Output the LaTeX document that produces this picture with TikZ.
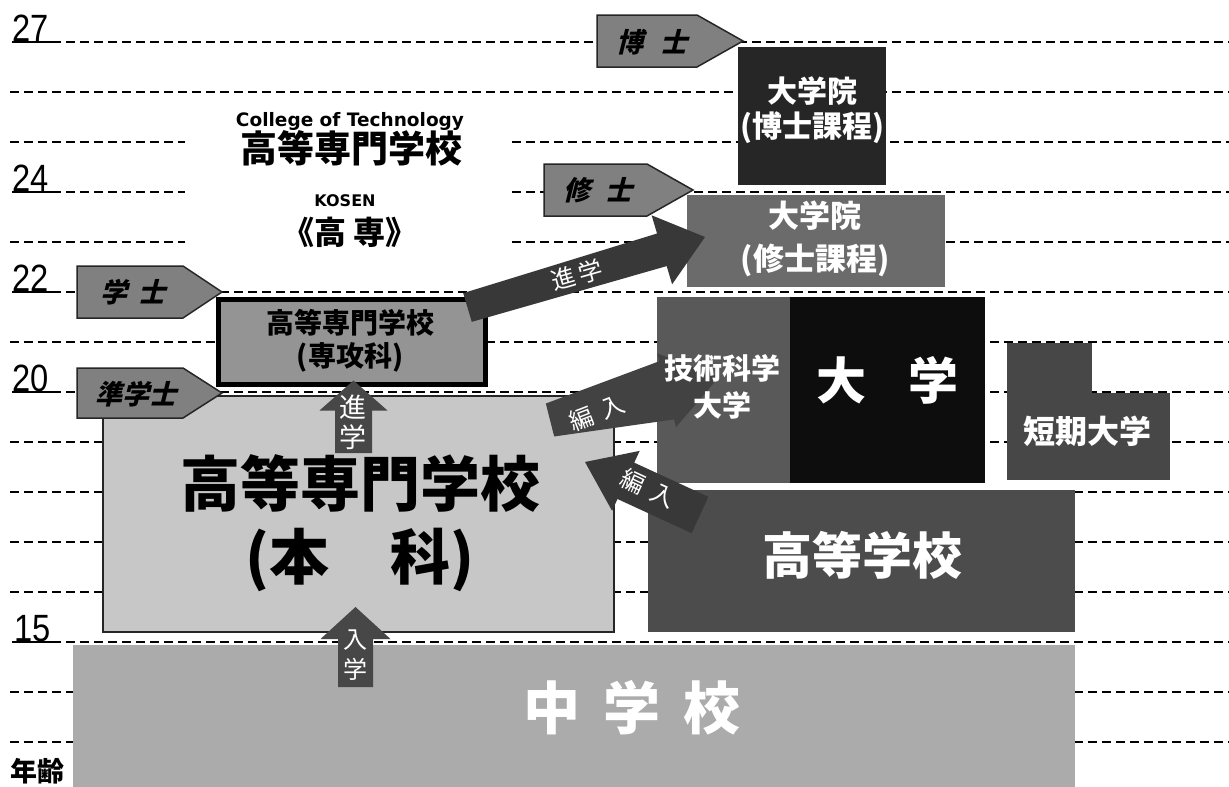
\documentclass[tikz,border=0pt]{standalone}
\usepackage{fontspec}
\setmainfont{Liberation Sans}
\newfontfamily\jp{Noto Sans CJK JP}
\newfontfamily\jpsl{Noto Sans CJK JP}[FakeSlant=0.25]
\newfontfamily\dv{DejaVu Sans}
\usetikzlibrary{calc}
\newcommand\blockarrow[7]{%
  \coordinate (BAt) at #2;
  \coordinate (BAh) at #3;
  \coordinate (BAb) at ($(BAh)!#7!(BAt)$);
  \fill[#1] ($(BAt)!#4!90:(BAh)$) -- ($(BAb)!#5!90:(BAh)$) -- ($(BAb)!#6!90:(BAh)$)
    -- (BAh) -- ($(BAb)!#6!-90:(BAh)$) -- ($(BAb)!#5!-90:(BAh)$) -- ($(BAt)!#4!-90:(BAh)$) -- cycle;
}
\tikzset{
  ageline/.style={line width=1.6pt, dash pattern=on 9pt off 5pt},
  underl/.style={line width=1.6pt},
  agelbl/.style={inner sep=0pt, anchor=base west, font=\fontsize{38}{38}\selectfont},
  box/.style={inner sep=0pt, outer sep=0pt},
  tag/.style={fill=black!50, draw=black!85, line width=1.5pt},
  tagtxt/.style={inner sep=0pt, font=\jpsl\bfseries\fontsize{27}{27}\selectfont},
  wtxt/.style={inner sep=0pt, text=white, align=center},
  btxt/.style={inner sep=0pt, text=black, align=center},
  arr/.style={fill=black!78},
}
\begin{document}
\begin{tikzpicture}[x=1pt,y=-1pt]
\fill[white] (0,0) rectangle (1229,787);
\useasboundingbox (0,0) rectangle (1229,787);

% ---- age grid lines ----
\foreach \yy in {92,342,442,492,542,592,692,742}
  \draw[ageline] (10,\yy) -- (1229,\yy);
\foreach \yy in {42,292,392,642}{
  \draw[underl] (12,\yy) -- (52,\yy);
  \draw[ageline] (52,\yy) -- (1229,\yy);}
\foreach \yy in {142,242}{
  \draw[ageline] (10,\yy) -- (185,\yy);
  \draw[ageline] (512,\yy) -- (1229,\yy);}
\draw[underl] (12,192) -- (52,192);
\draw[ageline] (52,192) -- (185,192);
\draw[ageline] (512,192) -- (1229,192);

% ---- age labels ----
\node[agelbl] (a27) at (12,41) {\scalebox{0.86}[1]{27}};
\node[agelbl] (a24) at (12,191) {\scalebox{0.86}[1]{24}};
\node[agelbl] (a22) at (12,291) {\scalebox{0.86}[1]{22}};
\node[agelbl] (a20) at (12,391) {\scalebox{0.86}[1]{20}};
\node[agelbl] (a15) at (14,641) {\scalebox{0.86}[1]{15}};
\node[inner sep=0pt, font=\jp\bfseries\fontsize{27}{27}\selectfont] (nenrei) at (37,771) {年齢};

% ---- title ----
\node[inner sep=0pt, font=\dv\bfseries\fontsize{18.5}{20}\selectfont] (coll) at (350,121) {College of Technology};
\node[inner sep=0pt, font=\jp\bfseries\fontsize{37}{40}\selectfont] (kosenjp) at (351,148) {高等専門学校};
\node[inner sep=0pt, font=\dv\bfseries\fontsize{16}{18}\selectfont] (kosenen) at (345,201) {KOSEN};
\node[inner sep=0pt, font=\jp\bfseries\fontsize{32}{34}\selectfont] (kosenab) at (350,232) {《高 専》};

% ---- boxes ----
\node[box, fill=black!33, minimum width=1002pt, minimum height=145pt] (chugaku) at (574,717.5) {};
\node[box, fill=black!22, draw=black!85, line width=2pt, minimum width=511pt, minimum height=236pt] (honka) at (358.5,514) {};
\node[box, fill=black!42, draw=black, line width=5pt, minimum width=267pt, minimum height=85pt] (senko) at (352,342) {};
\node[box, fill=black!85, minimum width=148pt, minimum height=138pt] (hakase) at (812,116) {};
\node[box, fill=black!58, minimum width=258pt, minimum height=92pt] (shushi) at (816,241) {};
\node[box, fill=black!65, minimum width=133pt, minimum height=186pt] (gikadai) at (723.5,390) {};
\node[box, fill=black!95, minimum width=195pt, minimum height=186pt] (daigaku) at (887.5,390) {};
\node[box, fill=black!70, minimum width=427pt, minimum height=142pt] (koko) at (861.5,561) {};
\fill[black!72] (1007,343) rectangle (1092,394);
\node[box, fill=black!72, minimum width=163pt, minimum height=87pt] (tanki) at (1088.5,436.5) {};

% ---- degree tags ----
\draw[tag] (597,15) -- (697,15) -- (743,41) -- (697,67) -- (597,67) -- cycle;
\node[tagtxt] (hakaseTag) at (652,42) {博\hspace{18pt}士};
\draw[tag] (544,164) -- (647,164) -- (693,190) -- (647,216) -- (544,216) -- cycle;
\node[tagtxt] (shushiTag) at (598,190) {修\hspace{15pt}士};
\draw[tag] (77,266) -- (183,266) -- (222,292) -- (183,318) -- (77,318) -- cycle;
\node[tagtxt] (gakushiTag) at (133,292) {学\hspace{12pt}士};
\draw[tag] (77,368) -- (183,368) -- (222,393) -- (183,418) -- (77,418) -- cycle;
\node[tagtxt] (jungakushiTag) at (136,394) {準学士};

% ---- arrows ----
\blockarrow{arr}{($(senko.north east)+(-18,8)$)}{($(shushi.west)+(18,-4)$)}{15pt}{17pt}{36pt}{45pt}
\node[wtxt, rotate=16, font=\jp\fontsize{24}{24}\selectfont] (shingaku2) at (577,275) {進\hspace{4pt}学};
\blockarrow{fill=black!74}{(550,420)}{($(gikadai.west)+(62,-13)$)}{17pt}{30pt}{38pt}{54pt}
\node[wtxt, rotate=21, font=\jp\fontsize{24}{24}\selectfont] (hennyu1) at (597,413) {編\hspace{9pt}入};
\blockarrow{arr}{(700,515)}{(585,462)}{20pt}{20pt}{33pt}{45pt}
\node[wtxt, rotate=-25, font=\jp\fontsize{24}{24}\selectfont] (hennyu2) at (648,488) {編\hspace{9pt}入};
\blockarrow{fill=black!72}{(353.5,453)}{($(senko.south)+(1.5,-4)$)}{18.5pt}{18.5pt}{34pt}{30pt}
\node[wtxt, font=\jp\fontsize{27}{30}\selectfont] (shingaku1) at (353,422) {進\\学};
\blockarrow{fill=black!72}{(355.5,687)}{($(honka.south)+(-3,-25)$)}{17.5pt}{17.5pt}{35pt}{32pt}
\node[wtxt, font=\jp\fontsize{24}{30}\selectfont] (nyugaku) at (355,655) {入\\学};

% ---- box texts ----
\node[wtxt, font=\jp\bfseries\fontsize{30}{35}\selectfont] at (812,110) {大学院\\(博士課程)};
\node[wtxt, font=\jp\bfseries\fontsize{31}{43}\selectfont] at (815,238.5) {大学院\\(修士課程)};
\node[btxt, font=\jp\bfseries\fontsize{28}{33}\selectfont] at (350,341) {高等専門学校\\(専攻科)};
\node[btxt, font=\jp\bfseries\fontsize{60}{73}\selectfont] at (360,523.5) {高等専門学校\\(本\hspace{62pt}科)};
\node[wtxt, font=\jp\bfseries\fontsize{29}{37}\selectfont] at (722,386.5) {技術科学\\大学};
\node[wtxt, font=\jp\bfseries\fontsize{50}{50}\selectfont] at (887,380) {大\hspace{42pt}学};
\node[wtxt, font=\jp\bfseries\fontsize{32}{32}\selectfont] at (1087,431) {短期大学};
\node[wtxt, font=\jp\bfseries\fontsize{50}{50}\selectfont] at (862,555) {高等学校};
\node[wtxt, font=\jp\bfseries\fontsize{57}{57}\selectfont] at (632,708) {中\hspace{23pt}学\hspace{23pt}校};
\end{tikzpicture}
\end{document}
